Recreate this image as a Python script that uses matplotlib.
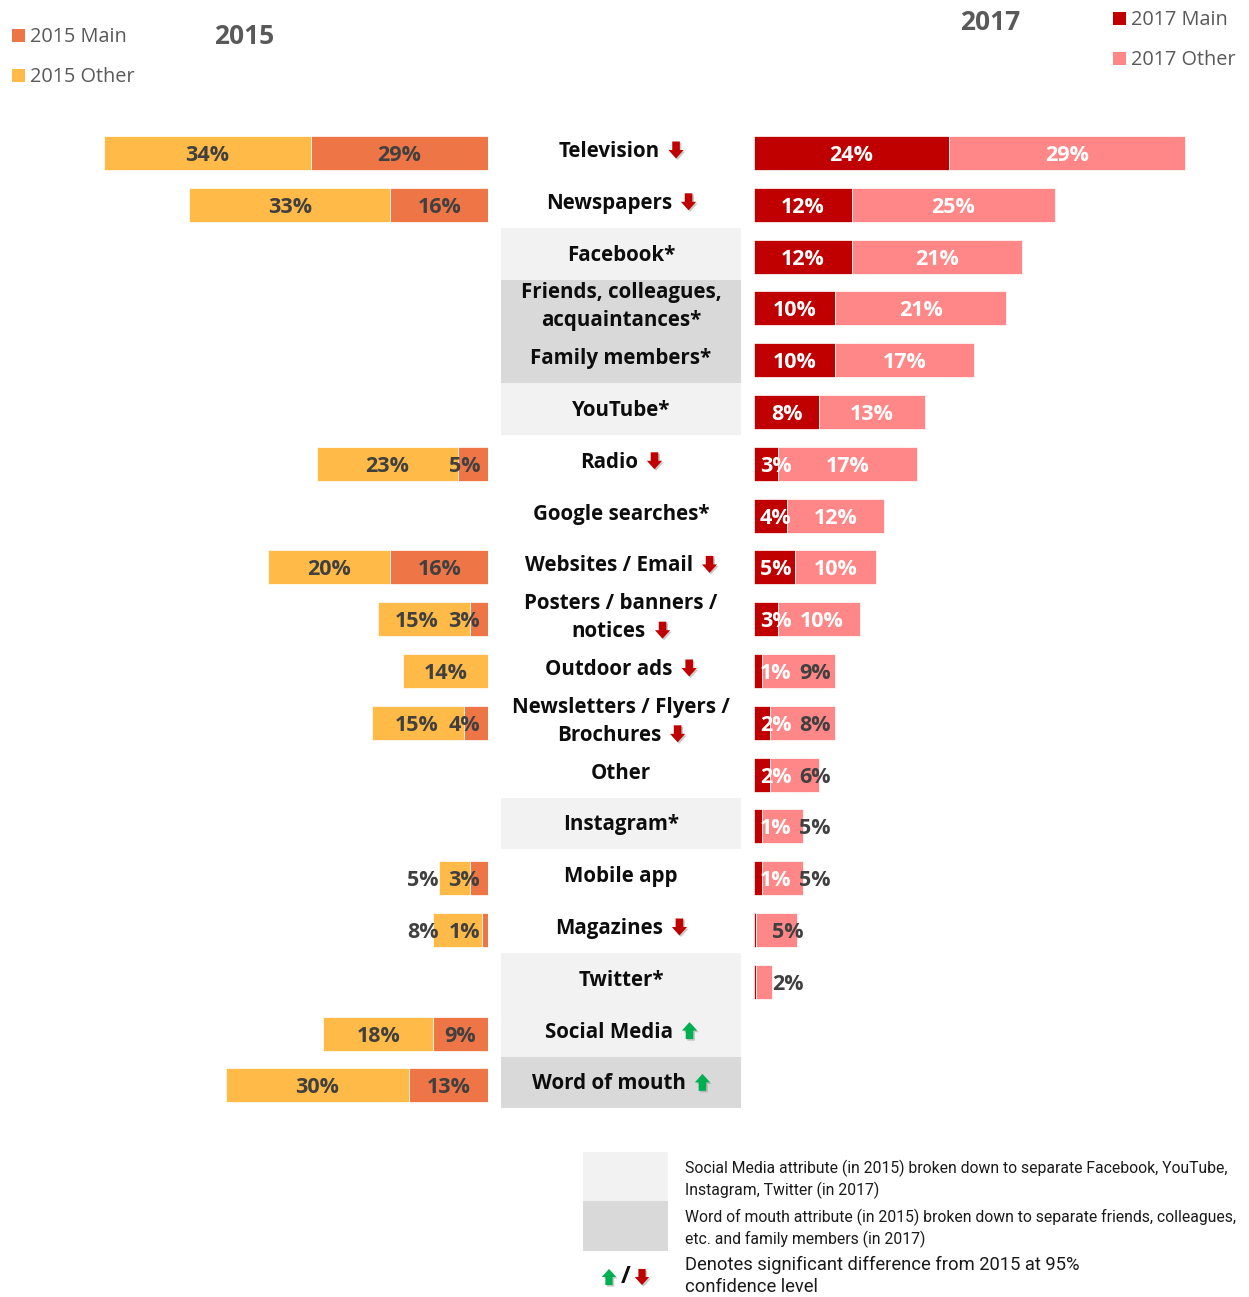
import numpy as np
import matplotlib
matplotlib.use("Agg")
import matplotlib.pyplot as plt
from matplotlib.patches import Rectangle, Polygon

nan = np.nan

# ---- data -----------------------------------------------------------------
categories = [
    "Television", "Newspapers", "Facebook*", "Friends, colleagues,\nacquaintances*",
    "Family members*", "YouTube*", "Radio", "Google searches*", "Websites / Email",
    "Posters / banners /\nnotices", "Outdoor ads", "Newsletters / Flyers /\nBrochures",
    "Other", "Instagram*", "Mobile app", "Magazines", "Twitter*", "Social Media",
    "Word of mouth",
]
trend = ["down", "down", None, None, None, None, "down", None, "down", "down",
         "down", "down", None, None, None, "down", None, "up", "up"]

main_2015 = [29, 16, nan, nan, nan, nan, 5, nan, 16, 3, 0, 4, nan, nan, 3, 1, nan, 9, 13]
other_2015 = [34, 33, nan, nan, nan, nan, 23, nan, 20, 15, 14, 15, nan, nan, 5, 8, nan, 18, 30]
main_2017 = [24, 12, 12, 10, 10, 8, 3, 4, 5, 3, 1, 2, 2, 1, 1, 0.3, 0.2, nan, nan]
other_2017 = [29, 25, 21, 21, 17, 13, 17, 12, 10, 10, 9, 8, 6, 5, 5, 5, 2, nan, nan]

social_rows = ["Facebook*", "YouTube*", "Instagram*", "Twitter*", "Social Media"]
wom_rows = ["Friends, colleagues,\nacquaintances*", "Family members*", "Word of mouth"]

# ---- style ----------------------------------------------------------------
C15_MAIN = "#EE7546"
C15_OTHER = "#FFBA47"
C17_MAIN = "#C00000"
C17_OTHER = "#FF8787"
LIGHT_BAND = "#F2F2F2"
DARK_BAND = "#D9D9D9"
TXT_GRAY = "#404040"
TITLE_GRAY = "#595959"
UP_GREEN = "#00B050"
DOWN_RED = "#C00000"
FONT = "Open Sans"

W, H = 1249, 1297
fig = plt.figure(figsize=(W / 100, H / 100), dpi=100)
renderer = fig.canvas.get_renderer()

n = len(categories)
ROW_H = 51.8
ROW0 = 153.0
top_px = ROW0 - ROW_H / 2
bot_px = ROW0 + (n - 0.5) * ROW_H

PX_L = 6.1     # pixels per percent, 2015 side
PX_R = 8.13    # pixels per percent, 2017 side
L_ZERO = 488
R_ZERO = 754


def rect(x0, x1):
    return [x0 / W, 1 - bot_px / H, (x1 - x0) / W, (bot_px - top_px) / H]


axL = fig.add_axes(rect(0, L_ZERO))
axL.set_xlim(L_ZERO / PX_L, 0)
axR = fig.add_axes(rect(R_ZERO, W))
axR.set_xlim(0, (W - R_ZERO) / PX_R)
for ax in (axL, axR):
    ax.set_ylim(n - 0.5, -0.5)
    ax.axis("off")

ov = fig.add_axes([0, 0, 1, 1])
ov.set_xlim(0, W)
ov.set_ylim(H, 0)
ov.axis("off")


def text_w(t):
    return t.get_window_extent(renderer).width


# ---- bars -----------------------------------------------------------------
y = np.arange(n)
BAR_H = 34 / ROW_H
m15 = np.array(main_2015, float)
o15 = np.array(other_2015, float)
m17 = np.array(main_2017, float)
o17 = np.array(other_2017, float)

k15 = ~np.isnan(o15)
axL.barh(y[k15], m15[k15], height=BAR_H, color=C15_MAIN, edgecolor="white", linewidth=0.5)
axL.barh(y[k15], o15[k15], left=m15[k15], height=BAR_H, color=C15_OTHER,
         edgecolor="white", linewidth=0.5)
k17 = ~np.isnan(o17)
axR.barh(y[k17], m17[k17], height=BAR_H, color=C17_MAIN, edgecolor="white", linewidth=0.5)
axR.barh(y[k17], o17[k17], left=m17[k17], height=BAR_H, color=C17_OTHER,
         edgecolor="white", linewidth=0.5)

lab = dict(fontsize=15.5, fontweight="bold", family=FONT, ha="center", va="baseline")
BASE = 8 / ROW_H   # baseline sits a little below the row centre

# 2015 value labels
for i in range(n):
    m, o = m15[i], o15[i]
    if np.isnan(o):
        continue
    d_main = None
    if m >= 0.5:
        t = axL.text(0, i + BASE, f"{m:.0f}%", color=TXT_GRAY, **lab)
        wm = text_w(t)
        d_main = max(m / 2, (8 + wm / 2) / PX_L)
        t.set_x(d_main)
    t2 = axL.text(0, i + BASE, f"{o:.0f}%", color=TXT_GRAY, **lab)
    wo = text_w(t2)
    d = m + o / 2
    if d_main is not None:
        d = max(d, d_main + (wm / 2 + 10 + wo / 2) / PX_L)
    t2.set_x(d)

# 2017 value labels
for i in range(n):
    m, o = m17[i], o17[i]
    if np.isnan(o):
        continue
    d_main = None
    if m >= 0.5:
        t = axR.text(0, i + BASE, f"{m:.0f}%", color="white", **lab)
        wm = text_w(t)
        d_main = max(m / 2, (6 + wm / 2) / PX_R)
        t.set_x(d_main)
    t2 = axR.text(0, i + BASE, f"{o:.0f}%", color="white" if o >= 10 else TXT_GRAY, **lab)
    wo = text_w(t2)
    d = m + o / 2
    if d_main is not None:
        d = max(d, d_main + (wm / 2 + 8 + wo / 2) / PX_R)
    else:
        d = max(d, (6 + wo / 2) / PX_R + 1.5)
    t2.set_x(d)


# ---- centre panel -----------------------------------------------------------
def draw_arrow(cx, cy, direction, scale=1.0):
    sw, hw, hh = 3.8 * scale, 7.6 * scale, 8.5 * scale
    s = 1 if direction == "down" else -1
    pts = [(cx - sw, cy - s * hh), (cx + sw, cy - s * hh), (cx + sw, cy),
           (cx + hw, cy), (cx, cy + s * hh), (cx - hw, cy), (cx - sw, cy)]
    col = DOWN_RED if direction == "down" else UP_GREEN
    shadow = [(px + 1.6, py + 1.6) for px, py in pts]
    ov.add_patch(Polygon(shadow, closed=True, facecolor="#A0A0A0", alpha=0.55,
                         edgecolor="none", zorder=4))
    ov.add_patch(Polygon(pts, closed=True, facecolor=col, edgecolor="none", zorder=5))


PANEL_X0, PANEL_X1 = 501, 741
CX = (PANEL_X0 + PANEL_X1) / 2
for i, name in enumerate(categories):
    band = LIGHT_BAND if name in social_rows else DARK_BAND if name in wom_rows else None
    if band:
        yc = ROW0 + i * ROW_H - 3
        ov.add_patch(Rectangle((PANEL_X0, yc - ROW_H / 2), PANEL_X1 - PANEL_X0, ROW_H,
                               facecolor=band, edgecolor="none", zorder=1))

cat = dict(fontsize=14.8, fontweight="bold", family=FONT, color="#0D0D0D",
           va="baseline", zorder=6)
ARROW_W, ARROW_GAP, LINE_SP = 15.2, 9, 28
for i, (name, tr) in enumerate(zip(categories, trend)):
    yc = ROW0 + i * ROW_H - 3
    lines = name.split("\n")
    k = len(lines)
    for j, line in enumerate(lines):
        ly = yc + (j - (k - 1) / 2) * LINE_SP
        t = ov.text(CX, ly + 7, line, ha="center", **cat)
        if tr and j == k - 1:
            w = text_w(t)
            left = CX - (w + ARROW_GAP + ARROW_W) / 2
            t.set_ha("left")
            t.set_x(left)
            draw_arrow(left + w + ARROW_GAP + ARROW_W / 2, ly, tr)

# ---- legends and titles ---------------------------------------------------
leg = dict(fontsize=14.3, family=FONT, color=TITLE_GRAY, va="center", ha="left")
for (sx, sy, col, txt) in [(12, 29, C15_MAIN, "2015 Main"), (12, 69, C15_OTHER, "2015 Other"),
                           (1113, 12, C17_MAIN, "2017 Main"), (1113, 52, C17_OTHER, "2017 Other")]:
    ov.add_patch(Rectangle((sx, sy), 13, 13, facecolor=col, edgecolor="none"))
    ov.text(sx + 18, sy + 8, txt, **leg)

ttl = dict(fontsize=19, fontweight="bold", family=FONT, color=TITLE_GRAY,
           ha="center", va="center")
ov.text(244, 37, "2015", **ttl)
ov.text(990, 22, "2017", **ttl)

# ---- footnotes ------------------------------------------------------------
ov.add_patch(Rectangle((583, 1152), 85, 49, facecolor=LIGHT_BAND, edgecolor="none"))
ov.add_patch(Rectangle((583, 1201), 85, 50, facecolor=DARK_BAND, edgecolor="none"))
note = dict(fontsize=11.3, family="Roboto", color="#1A1A1A", ha="left", va="center")
ov.text(685, 1168, "Social Media attribute (in 2015) broken down to separate Facebook, YouTube,", **note)
ov.text(685, 1190, "Instagram, Twitter (in 2017)", **note)
ov.text(685, 1217, "Word of mouth attribute (in 2015) broken down to separate friends, colleagues,", **note)
ov.text(685, 1239, "etc. and family members (in 2017)", **note)
note2 = dict(note, fontsize=13.2)
ov.text(685, 1265, "Denotes significant difference from 2015 at 95%", **note2)
ov.text(685, 1287, "confidence level", **note2)

draw_arrow(609, 1277, "up", 0.95)
ov.text(626, 1277, "/", fontsize=17, fontweight="bold", family=FONT, color="#0D0D0D",
        ha="center", va="center")
draw_arrow(642, 1277, "down", 0.95)

fig.savefig("out.png", dpi=100)
